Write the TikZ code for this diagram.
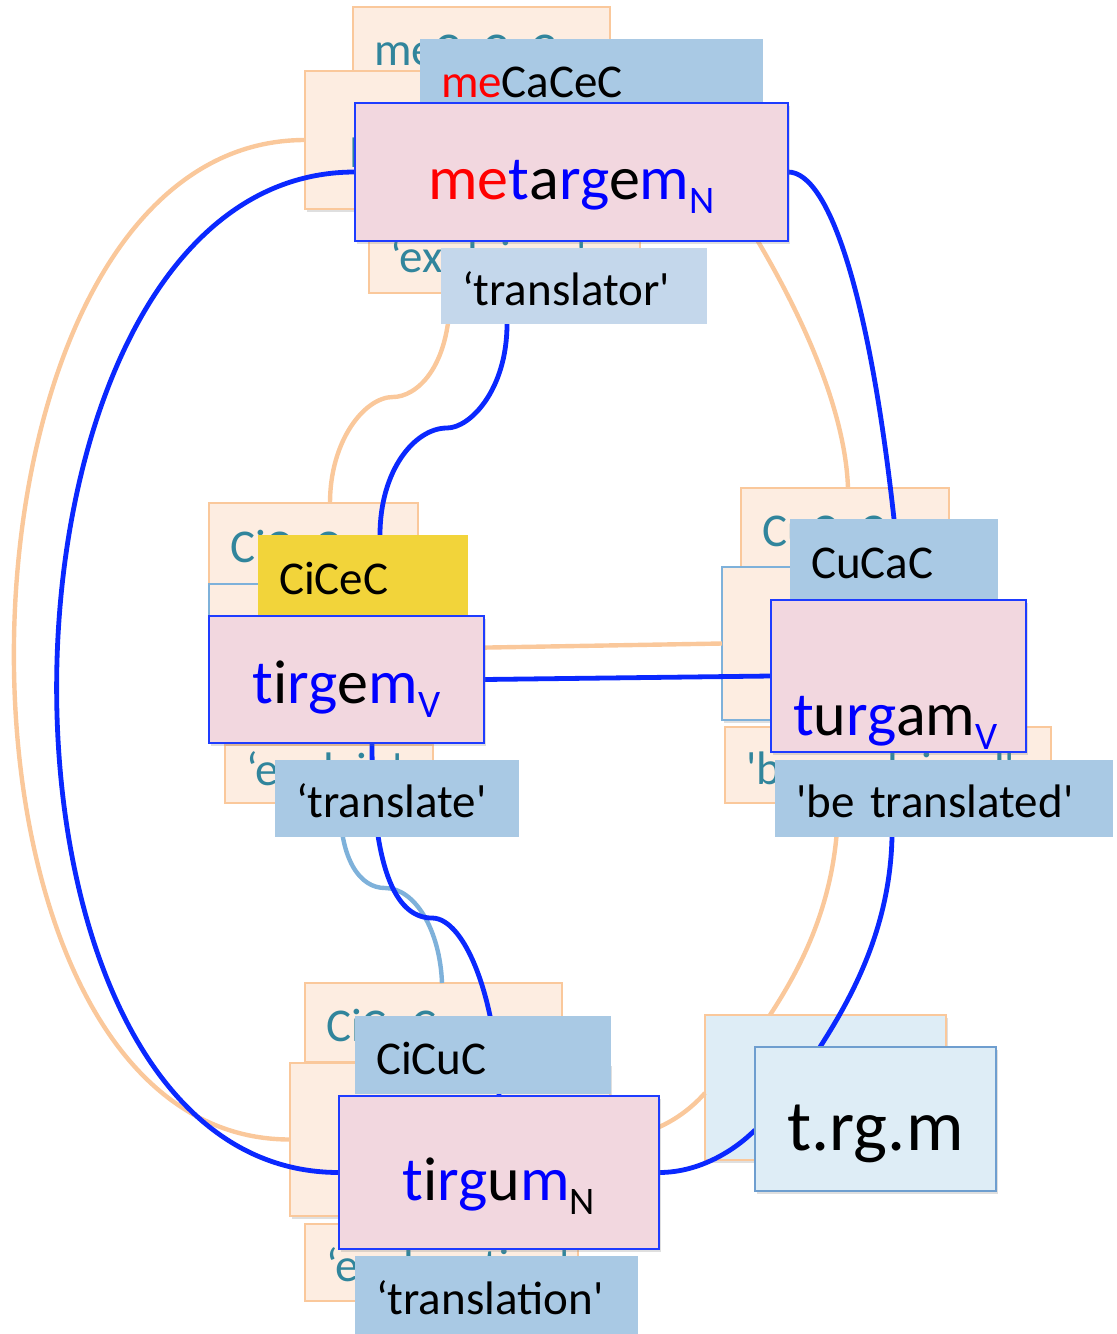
\documentclass[tikz,border=0pt]{standalone}
\usepackage{fontspec}
\setmainfont{Carlito}[Ligatures=TeXOff]
\usepackage{tikz}
\usetikzlibrary{shadows}

\definecolor{peachfill}{RGB}{253,237,225}
\definecolor{peachline}{RGB}{250,200,155}
\definecolor{tealtext}{RGB}{49,133,156}
\definecolor{patfill}{RGB}{169,201,228}
\definecolor{glossfill}{RGB}{196,215,235}
\definecolor{cicecfill}{RGB}{242,212,58}
\definecolor{wordfill}{RGB}{242,215,223}
\definecolor{wordline}{RGB}{30,60,255}
\definecolor{linkblue}{RGB}{10,40,255}
\definecolor{skyline}{RGB}{126,177,218}
\definecolor{rootfill}{RGB}{222,237,246}
\definecolor{rootline}{RGB}{110,158,207}
\definecolor{radblue}{RGB}{0,0,255}
\definecolor{prered}{RGB}{255,0,0}

% root letters blue, prefix red, small lowered category letter
\newcommand{\radl}[1]{\textcolor{radblue}{#1}}
\newcommand{\prefx}[1]{\textcolor{prered}{#1}}
\newcommand{\wsub}[1]{\raisebox{-7pt}{\fontsize{19.5}{20}\selectfont #1}}
\hyphenpenalty=10000

% older layer at the back, links between, words on top
\pgfdeclarelayer{ghost}
\pgfdeclarelayer{links}
\pgfsetlayers{ghost,links,main}

\begin{document}
\begin{tikzpicture}[x=0.5pt, y=-0.5pt,
  every node/.style={anchor=north west, inner ysep=0pt, outer sep=0pt},
  pat/.style={fill=patfill, align=left, inner xsep=10.5pt, text height=19pt, text depth=0pt,
    font=\fontsize{23.5}{24}\selectfont},
  word/.style={fill=wordfill, draw=wordline, line width=0.8pt, inner xsep=0pt,
    text height=27pt, text depth=0pt, font=\fontsize{31}{31}\selectfont,
    drop shadow={shadow xshift=1pt, shadow yshift=-1.5pt, opacity=.25}},
  rootbox/.style={fill=rootfill, draw=rootline, line width=0.8pt, inner xsep=0pt,
    text height=31pt, text depth=0pt, font=\fontsize{36}{36}\selectfont,
    drop shadow={shadow xshift=1pt, shadow yshift=-1.5pt, opacity=.25}},
  ghost/.style={fill=peachfill, draw=peachline, line width=0.6pt, text=tealtext},
  link/.style={draw=linkblue, line width=2.4pt},
  oldlink/.style={draw=peachline, line width=2.2pt},
  skylink/.style={draw=skyline, line width=2.2pt}
]
\useasboundingbox (0,0) rectangle (1117,1334);

% words
\node[pat, text width=150.5pt, minimum height=39pt] (metapat) at (420,39) {\prefx{me}CaCeC};
\node[word, minimum width=216.5pt, minimum height=69pt] (meta) at (355,103)
  {\prefx{me}\radl{t}a\radl{rg}e\radl{m}\wsub{\radl{N}}};
\node[pat, fill=glossfill, text width=112pt, minimum height=38pt] (metagl) at (441,248) {‘translator'};

\node[pat, fill=cicecfill, text width=84pt, minimum height=40pt] (tirgempat) at (258,535) {CiCeC};
\node[word, text height=23.5pt, minimum width=137.5pt, minimum height=63.5pt] (tirgem) at (209,616)
  {\radl{t}i\radl{rg}e\radl{m}\wsub{\radl{V}}};
\node[pat, text width=101pt, minimum height=38.5pt] (tirgemgl) at (275,760) {‘translate'};

\node[pat, text width=83pt, minimum height=40pt] (turgampat) at (790,519) {CuCaC};
\node[word, align=left, text width=105.5pt, inner xsep=11pt, text height=67.5pt, text depth=8.5pt] (turgam) at (771,600)
  {\radl{t}u\radl{rg}am\wsub{\radl{V}}};
\node[pat, text width=148pt, minimum height=38.5pt] (turgamgl) at (775,760) {'be translated'};

\node[pat, text width=107pt, minimum height=39pt] (tirgumpat) at (355,1016) {CiCuC};
\node[word, text height=27.5pt, minimum width=160pt, minimum height=76.5pt] (tirgum) at (339,1096)
  {\radl{t}i\radl{rg}u\radl{m}\wsub{N}};
\node[pat, text width=120.5pt, minimum height=39pt] (tirgumgl) at (355,1256) {‘translation'};

\node[rootbox, minimum width=120.5pt, minimum height=72pt] (root) at (755,1047) {t.rg.m};

\begin{pgfonlayer}{ghost}
\node[pat, ghost, text width=107.5pt, minimum height=39pt] (bgmetapat) at (353,7) {meCaCeC};
\node[word, ghost, align=left, text width=173.5pt, inner xsep=21.5pt, minimum height=69pt] (bgmeta) at (305,71) {metargem};
\node[pat, ghost, text height=5.5pt, text width=114.5pt, minimum height=26.5pt] (bgmetagl) at (369,240) {‘explainer'};
\node[pat, ghost, text width=83.5pt, minimum height=40.5pt] (bgtirgempat) at (209,503) {CiCeC};
\node[word, ghost, draw=skyline, minimum width=125.5pt, minimum height=75.5pt] (bgtirgem) at (209,584) {};
\node[pat, ghost, text height=11pt, text width=83pt, minimum height=29pt] (bgtirgemgl) at (225,745) {‘explain'};
\node[pat, ghost, text width=83pt, minimum height=39.5pt] (bgturgampat) at (741,488) {CuCaC};
\node[word, ghost, draw=skyline, minimum width=127.5pt, minimum height=76.5pt] (bgturgam) at (722,567) {};
\node[pat, ghost, text width=142pt, minimum height=38pt] (bgturgamgl) at (725,727) {'be explained'};
\node[pat, ghost, text width=107.5pt, minimum height=39.5pt] (bgtirgumpat) at (305,983) {CiCuC};
\node[word, ghost, minimum width=160pt, minimum height=76.5pt] (bgtirgum) at (290,1063) {};
\node[pat, ghost, text width=115.5pt, minimum height=38.5pt] (bgtirgumgl) at (305,1224) {‘explanation'};
\node[rootbox, ghost, fill=rootfill, minimum width=120.5pt, minimum height=72.5pt] (bgroot) at (705,1015) {};

\draw[oldlink] (bgmeta.west) .. controls +(-378,0) and +(-378,0) .. (bgtirgum.west);
\coordinate (obend) at (393,397);
\draw[oldlink] ([xshift=-27.25pt]bgmetagl.south) .. controls +(0,77) and +(22,0) .. (obend)
  .. controls +(-28,0) and +(0,-63) .. ([xshift=8.25pt]bgtirgempat.north);
\draw[oldlink] (bgmeta.south east) .. controls +(52,81) and +(-3,-88) .. ([xshift=1.5pt]bgturgampat.north);
\draw[oldlink] ([yshift=5.75pt]bgtirgem.east) -- (bgturgam.west);
\draw[oldlink] ([xshift=-25pt]bgturgamgl.south) .. controls +(0,97) and +(30,-46) .. ([xshift=-27.75pt]bgroot.north);
\draw[oldlink] (bgtirgum.east) .. controls +(50,-4) and +(-15,17) .. ([yshift=-2.75pt]bgroot.west);
\coordinate (sbend) at (385,888);
\draw[skylink] ([xshift=5.5pt]bgtirgemgl.south) .. controls +(0,57) and +(-25,0) .. (sbend)
  .. controls +(30,0) and +(-2,-53) .. ([xshift=4.25pt]bgtirgumpat.north);
\end{pgfonlayer}

% links between the words
\begin{pgfonlayer}{links}
\coordinate (bend) at (447,428);
\coordinate (lbend) at (432,918);
\draw[link] (meta.west) .. controls +(-387,0) and +(-387,0) .. (tirgum.west);
\draw[link] (meta.east) .. controls +(42,0) and +(-24,-219) .. (turgampat.north);
\draw[link] ([xshift=-33.5pt]metagl.south) .. controls +(0,66) and +(23,0) .. (bend)
  .. controls +(-32,0) and +(0,-65) .. ([xshift=8.5pt]tirgempat.north);
\draw[link] (tirgem.east) -- (turgam.west);
\draw[link] ([xshift=12.75pt]tirgem.south) .. controls +(0,137) and +(-32,0) .. (lbend)
  .. controls +(33,0) and +(-2,-96) .. (tirgum.north);
\draw[link] ([xshift=-26pt]turgamgl.south) .. controls +(-2,93) and +(30,-47) .. ([xshift=-27.75pt]root.north);
\draw[link] (tirgum.east) .. controls +(41,0) and +(-20,20) .. ([yshift=-5.5pt]root.west);
\end{pgfonlayer}
\end{tikzpicture}
\end{document}
